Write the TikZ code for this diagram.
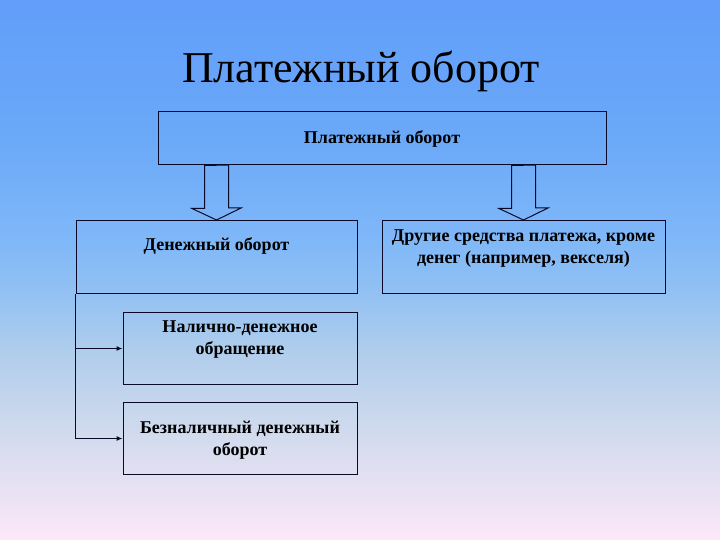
\documentclass[tikz,border=0pt]{standalone}
\usepackage{fontspec}
\setmainfont{Liberation Serif}
\usepackage{tikz}
\usetikzlibrary{arrows.meta}
\definecolor{inkline}{HTML}{0A0A28}
\pgfdeclareverticalshading{slidesky}{100bp}{%
  color(0bp)=(rgb,255:red,252;green,232;blue,248);
  color(25bp)=(rgb,255:red,252;green,232;blue,248);
  color(32.5bp)=(rgb,255:red,220;green,222;blue,240);
  color(37.5bp)=(rgb,255:red,198;green,214;blue,236);
  color(42.5bp)=(rgb,255:red,176;green,205;blue,236);
  color(47.5bp)=(rgb,255:red,148;green,194;blue,242);
  color(52.5bp)=(rgb,255:red,128;green,184;blue,248);
  color(62.5bp)=(rgb,255:red,106;green,168;blue,248);
  color(75bp)=(rgb,255:red,98;green,158;blue,250);
  color(100bp)=(rgb,255:red,98;green,158;blue,250)}

\begin{document}
\begin{tikzpicture}[x=1pt,y=-1pt,>={Latex[length=6pt,width=5pt]},
  box/.style={rectangle,draw=inkline,text=black,line width=1pt,inner xsep=0pt,inner ysep=0pt,anchor=north,align=center,font=\bfseries\fontsize{18}{22}\selectfont},
  hollow/.style={draw=inkline,line width=1pt,line join=miter},
  link/.style={->,draw=inkline,line width=1.1pt}]
\shade[shading=slidesky] (0,0) rectangle (720,540);
\useasboundingbox (0,0) rectangle (720,540);
\node[font=\fontsize{44}{50}\selectfont,text=black] (title) at (361,71) {Платежный оборот};
\node[box,anchor=center,minimum width=448pt,minimum height=53pt] (pay) at (382,138.5) {Платежный оборот};
\node[box,minimum width=281pt,text height=30pt,text depth=43pt] (money) at (216.5,220) {Денежный оборот};
\node[box,minimum width=283pt,text height=43pt,text depth=30pt] (other) at (523.5,220) {Другие средства платежа, кроме\\денег (например, векселя)};
\node[box,minimum width=234pt,text height=42pt,text depth=30pt] (cash) at (240,312) {Налично-денежное\\обращение};
\node[box,minimum width=234pt,text height=53pt,text depth=19pt] (cashless) at (240,402) {Безналичный денежный\\оборот};
\draw[hollow] (pay.south -| money.north) +(-12,0) -- +(-12,43) -- +(-24.5,43) -- (money.north) -- +(24.5,-12) -- +(12,-12) -- +(12,-55) -- cycle;
\draw[hollow] (pay.south -| other.north) +(-12,0) -- +(-12,43) -- +(-24.5,43) -- (other.north) -- +(24.5,-12) -- +(12,-12) -- +(12,-55) -- cycle;
\draw[link] (money.south west) |- (cash.west);
\draw[link] (money.south west) |- (cashless.west);
\end{tikzpicture}
\end{document}
